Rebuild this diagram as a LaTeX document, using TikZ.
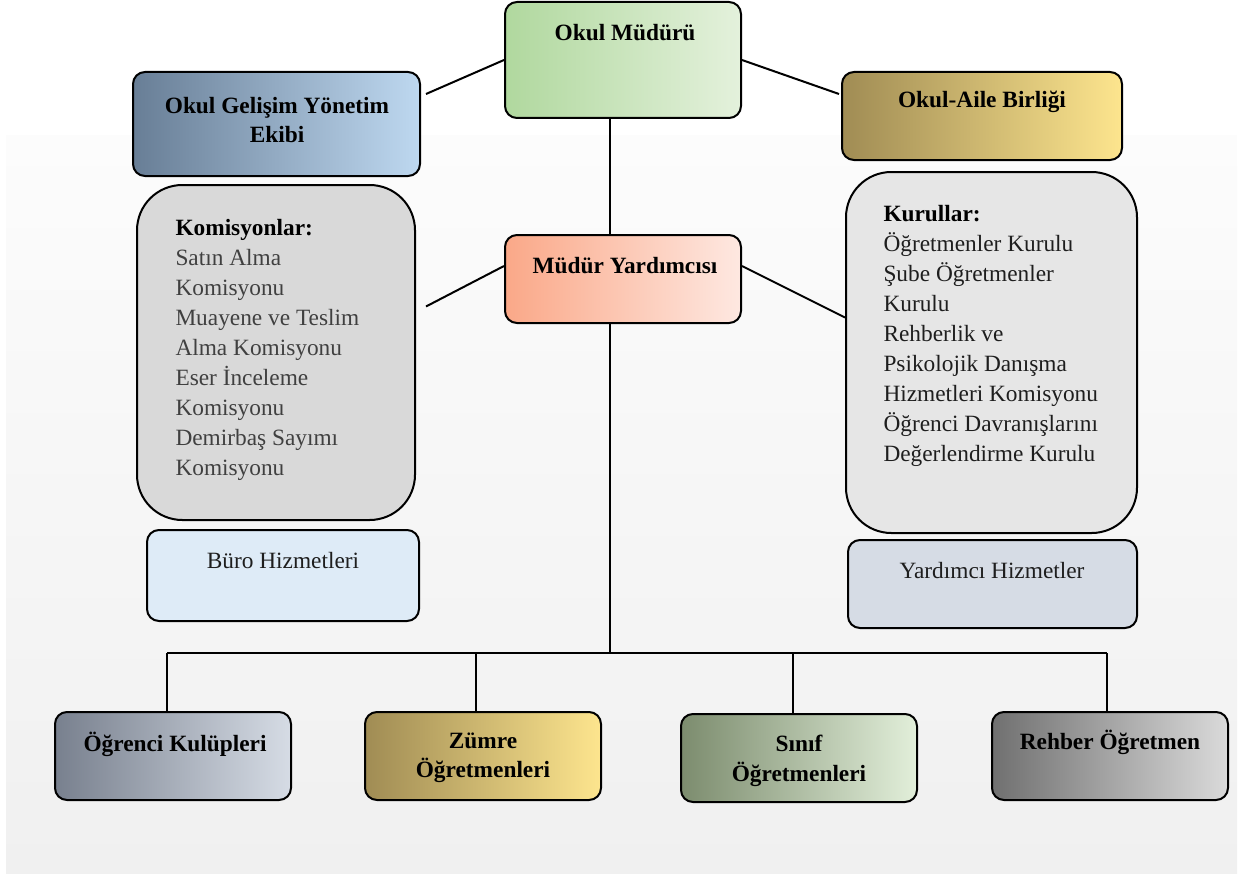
\documentclass[tikz,border=0pt]{standalone}
\usepackage{fontspec}
\setmainfont{Liberation Serif}

\definecolor{mudurL}{RGB}{176,216,158}
\definecolor{mudurR}{RGB}{228,241,220}
\definecolor{ogyeL}{RGB}{104,126,150}
\definecolor{ogyeR}{RGB}{190,216,240}
\definecolor{goldL}{RGB}{160,140,84}
\definecolor{goldR}{RGB}{253,229,142}
\definecolor{yardL}{RGB}{250,168,136}
\definecolor{yardR}{RGB}{254,232,225}
\definecolor{kulupL}{RGB}{120,128,142}
\definecolor{kulupR}{RGB}{214,220,229}
\definecolor{sinifL}{RGB}{124,140,110}
\definecolor{sinifR}{RGB}{226,239,218}
\definecolor{rehberL}{RGB}{112,112,112}
\definecolor{rehberR}{RGB}{218,218,218}
\definecolor{komFill}{RGB}{217,217,217}
\definecolor{kurFill}{RGB}{230,230,230}
\definecolor{buroFill}{RGB}{222,235,247}
\definecolor{yhizFill}{RGB}{214,220,229}
\definecolor{itemGray}{RGB}{64,64,64}
\definecolor{itemDark}{RGB}{30,30,30}

\tikzset{every picture/.style={line width=0.75pt}}
\tikzset{
  orgbox/.style={draw=black, line width=1.5pt, rounded corners=9pt, inner sep=0pt},
  bigbox/.style={draw=black, line width=1.5pt, rounded corners=34pt, inner sep=0pt},
  headtxt/.style={font=\bfseries\fontsize{17.5}{22}\selectfont, align=center, inner sep=0pt},
  plaintxt/.style={font=\fontsize{17.5}{22}\selectfont, align=center, inner sep=0pt, text=itemDark},
  listtxt/.style={font=\fontsize{17.5}{22.5}\selectfont, align=left, inner sep=0pt, anchor=north west},
  link/.style={line width=1.5pt, black}
}

\begin{document}
\begin{tikzpicture}[x=0.75pt,y=0.75pt,yscale=-1,xscale=1]
  \useasboundingbox (0,0) rectangle (1250,874);

  %Background
  \shade [top color={rgb,255:red,252;green,252;blue,252}, bottom color={rgb,255:red,240;green,240;blue,240}] (6,135) rectangle (1237,874);

  %Rounded Rect [Okul Mudur]
  \node [orgbox, left color=mudurL, right color=mudurR, minimum width=177pt, minimum height=87pt] (mudur) at (623,60) {};
  %Rounded Rect [Okul Gelisim Yonetim Ekibi]
  \node [orgbox, left color=ogyeL, right color=ogyeR, minimum width=215.25pt, minimum height=78pt] (ogye) at (276.5,124) {};
  %Rounded Rect [Okul-Aile Birligi]
  \node [orgbox, left color=goldL, right color=goldR, minimum width=210pt, minimum height=66pt] (veli) at (982,116) {};
  %Rounded Rect [Komisyonlar]
  \node [bigbox, fill=komFill, minimum width=208.5pt, minimum height=251.25pt] (komisyon) at (276,352.5) {};
  %Rounded Rect [Kurullar]
  \node [bigbox, fill=kurFill, minimum width=218.25pt, minimum height=270.75pt] (kurul) at (991.5,352.5) {};
  %Rounded Rect [Mudur Yardimcisi]
  \node [orgbox, left color=yardL, right color=yardR, minimum width=177pt, minimum height=66pt] (yard) at (623,279) {};
  %Rounded Rect [Buro]
  \node [orgbox, fill=buroFill, minimum width=204pt, minimum height=68.25pt] (buro) at (283,575.5) {};
  %Rounded Rect [Yardimci Hizmetler]
  \node [orgbox, fill=yhizFill, minimum width=216.75pt, minimum height=66pt] (yhiz) at (992.5,584) {};
  %Rounded Rect [bottom row]
  \node [orgbox, left color=kulupL, right color=kulupR, minimum width=177pt, minimum height=66pt] (kulup) at (173,756) {};
  \node [orgbox, left color=goldL, right color=goldR, minimum width=177pt, minimum height=66pt] (zumre) at (483,756) {};
  \node [orgbox, left color=sinifL, right color=sinifR, minimum width=177pt, minimum height=66pt] (sinif) at (799,758) {};
  \node [orgbox, left color=rehberL, right color=rehberR, minimum width=177pt, minimum height=66pt] (rehber) at (1110,756) {};

  %Text Nodes
  \node [headtxt] (tMudur) at (625,33) {Okul Müdürü};
  \node [headtxt] (tOgye) at (277,120) {Okul Gelişim Yönetim\\Ekibi};
  \node [headtxt] (tVeli) at (982,102) {Okul-Aile Birliği};
  \node [headtxt] (tYard) at (625,266) {Müdür Yardımcısı};
  \node [listtxt] (tKomisyon) at (175,219) {\textbf{Komisyonlar:}\\\color{itemGray}Satın Alma\\\color{itemGray}Komisyonu\\\color{itemGray}Muayene ve Teslim\\\color{itemGray}Alma Komisyonu\\\color{itemGray}Eser İnceleme\\\color{itemGray}Komisyonu\\\color{itemGray}Demirbaş Sayımı\\\color{itemGray}Komisyonu};
  \node [listtxt] (tKurul) at (883,205) {\textbf{Kurullar:}\\\color{itemDark}Öğretmenler Kurulu\\\color{itemDark}Şube Öğretmenler\\\color{itemDark}Kurulu\\\color{itemDark}Rehberlik ve\\\color{itemDark}Psikolojik Danışma\\\color{itemDark}Hizmetleri Komisyonu\\\color{itemDark}Öğrenci Davranışlarını\\\color{itemDark}Değerlendirme Kurulu};
  \node [plaintxt] (tBuro) at (283,561) {Büro Hizmetleri};
  \node [plaintxt] (tYhiz) at (992,571) {Yardımcı Hizmetler};
  \node [headtxt] (tKulup) at (175,744) {Öğrenci Kulüpleri};
  \node [headtxt] (tZumre) at (483,758) {Zümre\\Öğretmenleri};
  \node [headtxt] (tSinif) at (799,761) {Sınıf\\Öğretmenleri};
  \node [headtxt] (tRehber) at (1110,742) {Rehber Öğretmen};

  %Straight Lines
  \coordinate (spine) at (610,653);
  \coordinate (b1) at (167,653);
  \coordinate (b2) at (476,653);
  \coordinate (b3) at (793,653);
  \coordinate (b4) at (1107,653);
  \draw [link] (mudur.west) -- ([shift={(5,-30)}]ogye.east);
  \draw [link] ([shift={(0,0)}]mudur.east) -- ([shift={(-2,-22)}]veli.west);
  \draw [link] (mudur.south -| spine) -- (yard.north -| spine);
  \draw [link] ([shift={(0,-13)}]yard.west) -- ([shift={(10,-46)}]komisyon.east);
  \draw [link] ([shift={(0,-13)}]yard.east) -- ([shift={(0,-35)}]kurul.west);
  \draw [link] (yard.south -| spine) -- (spine);
  %Straight Lines [bus]
  \draw [link] (b1) -- (b4);
  \draw [link] (b1) -- (b1 |- kulup.north);
  \draw [link] (b2) -- (b2 |- zumre.north);
  \draw [link] (b3) -- (b3 |- sinif.north);
  \draw [link] (b4) -- (b4 |- rehber.north);
\end{tikzpicture}
\end{document}
